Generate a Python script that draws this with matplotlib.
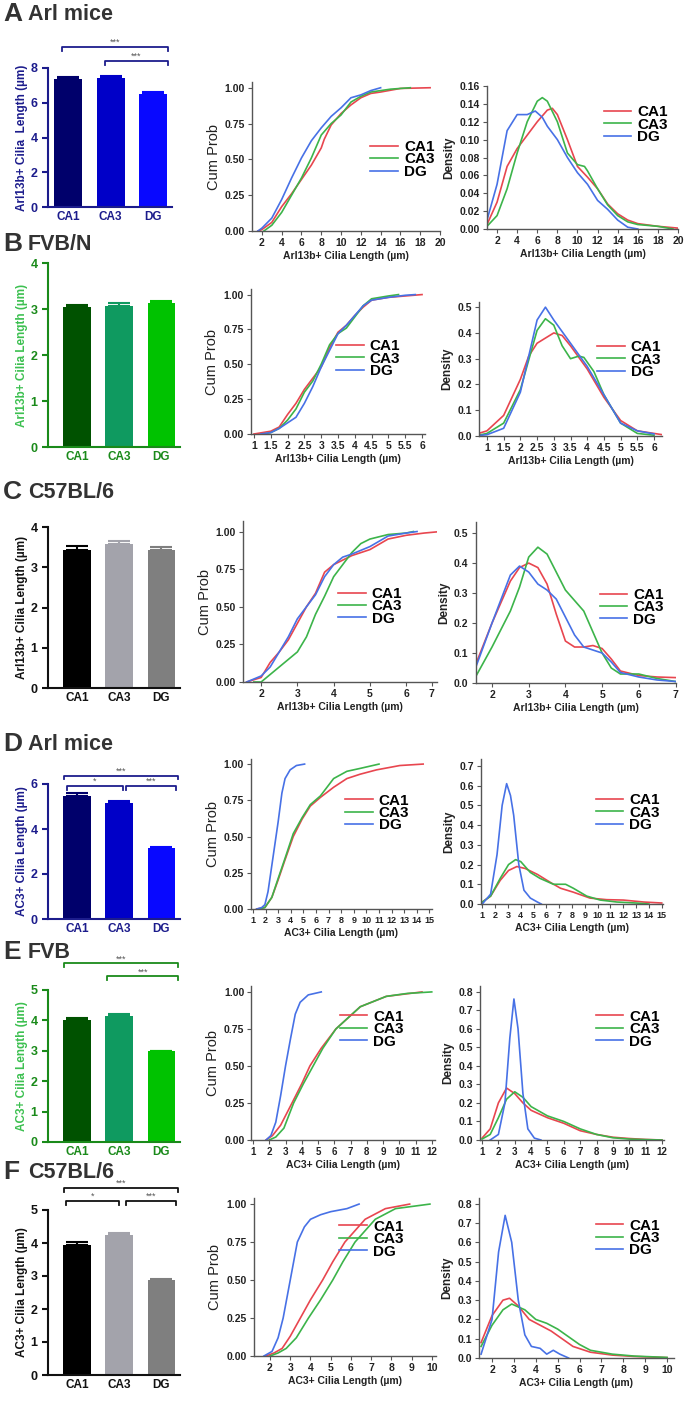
import numpy as np
import matplotlib
matplotlib.use("Agg")
import matplotlib.pyplot as plt

plt.rcParams['font.family'] = ['Liberation Sans', 'DejaVu Sans']

groups = ['CA1', 'CA3', 'DG']

# bar charts: mean and sem (um)
barA_mean = [7.36, 7.40, 6.48]; barA_sem = [0.13, 0.15, 0.14]
barB_mean = [3.04, 3.07, 3.13]; barB_sem = [0.05, 0.06, 0.04]
barC_mean = [3.44, 3.57, 3.43]; barC_sem = [0.08, 0.08, 0.07]
barD_mean = [5.48, 5.17, 3.17]; barD_sem = [0.10, 0.08, 0.04]
barE_mean = [4.00, 4.15, 2.98]; barE_sem = [0.07, 0.06, 0.02]
barF_mean = [3.95, 4.25, 2.87]; barF_sem = [0.08, 0.06, 0.03]

# cumulative probability curves
cdfA_ca1_x = [1.6, 2, 3, 4, 5, 6, 7, 8, 8.3, 9, 10, 11, 12, 13, 14, 16, 19]
cdfA_ca1_y = [0, .01, .06, .17, .26, .36, .46, .58, .64, .74, .82, .88, .93, .96, .97, .995, 1.0]
cdfA_ca3_x = [2.2, 3, 4, 5, 6, 7, 8, 9, 10, 11, 12, 13, 15, 17]
cdfA_ca3_y = [0, .04, .13, .25, .37, .51, .67, .75, .81, .9, .94, .97, .99, 1.0]
cdfA_dg_x = [1.6, 2, 3, 4, 5, 6, 7, 8, 9, 10, 11, 12, 13, 14]
cdfA_dg_y = [0, .02, .09, .22, .37, .51, .63, .72, .8, .86, .93, .95, .98, 1.0]

cdfB_ca1_x = [1.0, 1.5, 1.75, 2, 2.25, 2.5, 2.75, 3, 3.25, 3.5, 3.75, 4, 4.25, 4.5, 5, 5.5, 6]
cdfB_ca1_y = [0, .02, .05, .14, .22, .32, .40, .48, .62, .73, .78, .85, .91, .96, .98, .99, 1.0]
cdfB_ca3_x = [1.3, 1.5, 1.75, 2, 2.25, 2.5, 2.75, 3, 3.25, 3.5, 3.75, 4, 4.25, 4.5, 5, 5.3]
cdfB_ca3_y = [0, .01, .04, .10, .18, .30, .38, .50, .64, .72, .76, .84, .92, .97, .99, 1.0]
cdfB_dg_x = [1.2, 1.5, 1.75, 2, 2.25, 2.5, 2.75, 3, 3.25, 3.5, 3.75, 4, 4.25, 4.5, 5, 5.5, 5.8]
cdfB_dg_y = [0, .01, .04, .08, .12, .22, .34, .48, .6, .72, .78, .85, .92, .96, .98, .995, 1.0]

cdfC_ca1_x = [1.6, 2, 2.25, 2.5, 2.75, 3, 3.25, 3.5, 3.75, 4, 4.5, 5, 5.5, 6, 6.5, 6.95]
cdfC_ca1_y = [0, .03, .13, .2, .28, .39, .5, .59, .73, .78, .84, .88, .95, .975, .99, 1.0]
cdfC_ca3_x = [1.8, 2, 2.25, 2.5, 2.75, 3, 3.25, 3.5, 3.75, 4, 4.25, 4.5, 4.75, 5, 5.5, 6, 6.2]
cdfC_ca3_y = [0, .0, .05, .1, .15, .2, .3, .45, .57, .7, .78, .86, .92, .95, .98, .99, 1.0]
cdfC_dg_x = [1.6, 2, 2.25, 2.5, 2.75, 3, 3.25, 3.5, 3.75, 4, 4.25, 4.5, 5, 5.5, 6, 6.3]
cdfC_dg_y = [0, .04, .1, .2, .3, .42, .5, .58, .7, .78, .83, .85, .9, .97, .99, 1.0]

cdfD_ca1_x = [1.3, 1.95, 2.5, 3.0, 3.55, 4.2, 4.9, 5.55, 6.35, 7.4, 8.45, 9.5, 10.8, 12.65, 14.5]
cdfD_ca1_y = [0, .01, .08, .2, .34, .5, .62, .71, .77, .84, .9, .93, .96, .99, 1.0]
cdfD_ca3_x = [1.5, 1.95, 2.5, 3.0, 3.55, 4.2, 4.9, 5.55, 6.35, 7.4, 8.45, 9.5, 10.5, 11.0]
cdfD_ca3_y = [0, .01, .08, .21, .35, .52, .63, .72, .78, .9, .95, .97, .99, 1.0]
cdfD_dg_x = [1.3, 1.7, 1.95, 2.2, 2.5, 2.75, 3.0, 3.3, 3.55, 3.95, 4.45, 5.1]
cdfD_dg_y = [0, .01, .03, .12, .3, .45, .6, .8, .9, .96, .99, 1.0]

cdfE_ca1_x = [1.8, 2.2, 2.7, 3.4, 4.0, 4.5, 5.2, 6.1, 7.6, 9.2, 11.4]
cdfE_ca1_y = [0, .03, .1, .25, .38, .5, .62, .75, .9, .97, 1.0]
cdfE_ca3_x = [2.0, 2.4, 2.9, 3.5, 4.1, 4.7, 5.3, 6.1, 7.6, 9.2, 10.5, 12.0]
cdfE_ca3_y = [0, .02, .08, .25, .38, .5, .62, .75, .9, .97, .99, 1.0]
cdfE_dg_x = [1.8, 2.1, 2.4, 2.7, 3.0, 3.3, 3.6, 3.9, 4.4, 5.2]
cdfE_dg_y = [0, .03, .12, .3, .5, .68, .85, .93, .98, 1.0]

cdfF_ca1_x = [1.8, 2.2, 2.6, 3.0, 3.5, 4.0, 4.6, 5.1, 5.7, 6.7, 7.7, 8.9]
cdfF_ca1_y = [0, .02, .05, .13, .25, .37, .5, .62, .75, .9, .97, 1.0]
cdfF_ca3_x = [2.0, 2.4, 2.8, 3.3, 3.9, 4.5, 5.1, 5.6, 6.2, 7.2, 8.2, 9.9]
cdfF_ca3_y = [0, .02, .05, .12, .25, .37, .5, .62, .75, .9, .97, 1.0]
cdfF_dg_x = [1.7, 2.1, 2.4, 2.65, 3.0, 3.35, 3.7, 4.0, 4.5, 5.0, 5.8, 6.4]
cdfF_dg_y = [0, .03, .12, .25, .5, .75, .85, .9, .93, .95, .97, 1.0]

# density curves
denA_ca1_x = [1, 2, 3, 4, 5, 6, 7, 7.5, 8, 9, 10, 11, 12, 13, 14, 15, 16, 18, 20]
denA_ca1_y = [.005, .03, .07, .09, .105, .12, .133, .135, .128, .1, .07, .058, .045, .028, .017, .01, .006, .003, .001]
denA_ca3_x = [1, 2, 3, 4, 5, 6, 6.5, 7, 8, 9, 10, 10.7, 11, 12, 13, 14, 15, 16, 18, 19.5]
denA_ca3_y = [.003, .015, .045, .085, .12, .143, .147, .143, .12, .085, .072, .07, .065, .045, .027, .015, .008, .005, .003, 0]
denA_dg_x = [1, 2, 3, 4, 5, 5.8, 6.5, 7, 8, 9, 10, 11, 12, 13, 14, 15, 16]
denA_dg_y = [.01, .05, .11, .128, .128, .132, .125, .115, .1, .08, .063, .05, .032, .022, .01, .002, 0]

denB_ca1_x = [0.75, 1, 1.5, 2, 2.25, 2.5, 3, 3.25, 3.5, 4, 4.5, 5, 5.5, 6, 6.25]
denB_ca1_y = [.01, .02, .08, .22, .31, .36, .4, .39, .35, .26, .15, .06, .02, .01, .005]
denB_ca3_x = [0.75, 1, 1.5, 2, 2.5, 2.75, 3, 3.25, 3.5, 3.75, 3.9, 4.2, 4.5, 5, 5.5, 6]
denB_ca3_y = [.003, .01, .05, .18, .41, .455, .43, .35, .3, .31, .305, .25, .16, .05, .01, .003]
denB_dg_x = [0.75, 1, 1.5, 2, 2.5, 2.75, 3, 3.5, 4, 4.5, 5, 5.5, 6]
denB_dg_y = [.002, .005, .03, .17, .45, .5, .45, .36, .27, .16, .05, .02, .008]

denC_ca1_x = [1.55, 2, 2.5, 2.75, 3, 3.25, 3.5, 3.75, 4, 4.25, 4.5, 4.75, 5, 5.25, 5.5, 6, 6.5, 7]
denC_ca1_y = [.06, .2, .34, .385, .4, .385, .33, .23, .14, .12, .12, .125, .115, .08, .04, .025, .02, .018]
denC_ca3_x = [1.55, 2, 2.5, 2.75, 3, 3.25, 3.5, 3.75, 4, 4.5, 4.75, 5, 5.25, 5.5, 6, 6.5, 7]
denC_ca3_y = [.02, .12, .24, .32, .42, .453, .43, .37, .31, .24, .17, .1, .05, .03, .03, .015, .005]
denC_dg_x = [1.55, 2, 2.5, 2.75, 3, 3.25, 3.5, 3.75, 4, 4.25, 4.5, 5, 5.25, 5.5, 6, 6.5, 7]
denC_dg_y = [.05, .2, .36, .39, .37, .33, .31, .28, .22, .16, .12, .1, .07, .035, .02, .01, .005]

denD_ca1_x = [1, 1.65, 2.4, 3.05, 3.7, 4.35, 5.3, 6.3, 7.1, 8.1, 9.4, 10.7, 12, 13.6, 15]
denD_ca1_y = [.01, .04, .12, .17, .19, .18, .15, .11, .08, .06, .03, .022, .02, .01, .005]
denD_ca3_x = [1, 1.65, 2.4, 3.05, 3.6, 4, 4.75, 5.5, 6.55, 7.5, 8.1, 9.15, 10.2, 11.5, 13, 14]
denD_ca3_y = [.01, .04, .13, .2, .225, .215, .16, .13, .1, .1, .08, .04, .02, .01, .005, 0]
denD_dg_x = [1, 1.65, 2.15, 2.55, 2.9, 3.2, 3.45, 3.85, 4.25, 4.75, 5.3, 5.6]
denD_dg_y = [0, .05, .25, .5, .61, .55, .45, .2, .07, .03, .01, 0]

denE_ca1_x = [1, 1.5, 2, 2.5, 3, 3.5, 4, 5, 6, 7, 8, 9, 10, 11, 12]
denE_ca1_y = [.01, .06, .2, .28, .25, .2, .16, .12, .09, .05, .03, .015, .008, .003, 0]
denE_ca3_x = [1, 1.5, 2, 2.5, 3, 3.5, 4, 5, 6, 7, 8, 9, 10, 11, 12]
denE_ca3_y = [.005, .03, .12, .22, .26, .23, .18, .13, .1, .06, .03, .012, .005, .002, 0]
denE_dg_x = [1.5, 2, 2.4, 2.7, 2.95, 3.2, 3.5, 3.8, 4.2, 4.6]
denE_dg_y = [0, .03, .2, .55, .76, .6, .25, .06, .01, 0]

denF_ca1_x = [1.5, 2, 2.5, 2.8, 3.2, 3.7, 4.2, 4.7, 5.2, 5.7, 6.5, 7.5, 8.5, 10]
denF_ca1_y = [.08, .22, .3, .31, .27, .2, .17, .14, .1, .06, .03, .015, .008, .002]
denF_ca3_x = [1.5, 2, 2.5, 2.9, 3.5, 4, 4.5, 5, 5.5, 6, 6.5, 7.5, 8.5, 10]
denF_ca3_y = [.06, .17, .25, .28, .25, .2, .18, .15, .11, .07, .04, .02, .01, .003]
denF_dg_x = [1.5, 2, 2.3, 2.6, 2.9, 3.2, 3.5, 3.8, 4.2, 4.5, 4.8, 5.1, 5.5]
denF_dg_y = [.02, .2, .55, .74, .6, .3, .12, .06, .05, .02, .04, .02, 0]

RED, GRN, BLU = '#e8464f', '#3cb44a', '#4771e6'
TXT = '#333333'

W, H = 685, 1411
fig = plt.figure(figsize=(6.85, 14.11), dpi=100)


def place(x0, ytop, x1, ybot):
    return fig.add_axes([x0 / W, 1 - ybot / H, (x1 - x0) / W, (ybot - ytop) / H])


def bar_panel(ax, means, sems, cols, axc, tickc, labc, ylabel, ymax, xlim):
    x = np.arange(len(groups))
    ax.bar(x, means, 0.66, color=cols, zorder=2)
    for i in range(len(x)):
        ax.errorbar(x[i], means[i], yerr=[[0], [sems[i]]], fmt='none', ecolor=cols[i],
                    elinewidth=1.5, capsize=8, capthick=1.5, zorder=1)
    ax.set_xlim(*xlim)
    ax.set_ylim(0, ymax)
    ax.set_yticks(np.arange(0, ymax + 0.01, 2 if ymax > 5 else 1))
    ax.set_xticks(x)
    ax.set_xticklabels(groups)
    for s in ['top', 'right']:
        ax.spines[s].set_visible(False)
    for s in ['left', 'bottom']:
        ax.spines[s].set_color(axc)
        ax.spines[s].set_linewidth(1.5)
    ax.tick_params(axis='y', colors=axc, labelcolor=tickc, width=1.5, length=4, labelsize=9)
    ax.tick_params(axis='x', length=0, labelcolor=tickc, labelsize=8.5, pad=3)
    for t in ax.get_xticklabels() + ax.get_yticklabels():
        t.set_fontweight('bold')
    ax.set_ylabel(ylabel, color=labc, fontweight='bold', fontsize=8.5, labelpad=2)


def bracket(ax, x0, x1, y, h, txt, col):
    ax.plot([x0, x0, x1, x1], [y - h, y, y, y - h], color=col, lw=1.3, clip_on=False)
    ax.text((x0 + x1) / 2, y, txt, ha='center', va='bottom', fontsize=6.5, color='#555555',
            clip_on=False)


def curve_panel(ax, series, xlim, xticks, ylim, yticks, yfmt, ylabel, xlabel, leg,
                ylab_bold, xtlabels=None, xtsize=7.5):
    for xs, ys, c, lab in series:
        ax.plot(xs, ys, color=c, lw=1.2, label=lab, solid_joinstyle='round')
    ax.set_xlim(*xlim)
    ax.set_ylim(*ylim)
    ax.set_xticks(xticks)
    if xtlabels is not None:
        ax.set_xticklabels(xtlabels)
    else:
        ax.set_xticklabels(['%g' % v for v in xticks])
    ax.set_yticks(yticks)
    ax.set_yticklabels([yfmt % v for v in yticks])
    for s in ['top', 'right']:
        ax.spines[s].set_visible(False)
    for s in ['left', 'bottom']:
        ax.spines[s].set_color('#555555')
        ax.spines[s].set_linewidth(1.0)
    ax.tick_params(axis='both', colors='#555555', labelcolor='#222222', length=3, width=0.8, pad=2)
    ax.tick_params(axis='y', labelsize=7.5)
    ax.tick_params(axis='x', labelsize=xtsize)
    for t in ax.get_xticklabels() + ax.get_yticklabels():
        t.set_fontweight('bold')
    ax.set_xlabel(xlabel, fontsize=7.5, fontweight='bold', color='#222222', labelpad=2)
    ax.set_ylabel(ylabel, fontsize=10.5 if not ylab_bold else 8.5,
                  fontweight='bold' if ylab_bold else 'normal', color='#222222', labelpad=3)
    ax.legend(loc='center left', bbox_to_anchor=leg, frameon=False,
              prop={'weight': 'bold', 'size': 11}, handlelength=1.8, handletextpad=0.4,
              labelspacing=-0.1, borderpad=0, borderaxespad=0)


navy_bars = ['#00006b', '#0000c8', '#0808ff']
green_bars = ['#005200', '#0f9a60', '#00c200']
gray_bars = ['#000000', '#a3a3ab', '#7f7f7f']
NAVY, GREEN_AX, GREEN_LAB = '#1c1c8c', '#1a8a1a', '#3cc050'

arl_lab = 'Arl13b+ Cilia Length (\u00b5m)'
ac3_lab = 'AC3+ Cilia Length (\u00b5m)'
yticks_cdf = [0, 0.25, 0.5, 0.75, 1.0]

# titles
titles = [('A', 'Arl mice', 14), ('B', 'FVB/N', 244), ('C', 'C57BL/6', 492),
          ('D', 'Arl mice', 744), ('E', 'FVB', 952), ('F', 'C57BL/6', 1172)]
for letter, name, yc in titles:
    fig.text(3 / W, 1 - yc / H, letter, fontsize=19, fontweight='bold', color=TXT, va='center')
    fig.text(28 / W, 1 - yc / H, name, fontsize=15.5, fontweight='bold', color=TXT, va='center')

# ---- row A
ax = place(48, 68, 172, 207)
bar_panel(ax, barA_mean, barA_sem, navy_bars, NAVY, NAVY, NAVY,
          'Arl13b+ Cilia  Length (\u00b5m)', 8, (-0.48, 2.45))
bracket(ax, -0.15, 2.35, 9.2, 0.2, '***', NAVY)
bracket(ax, 0.86, 2.35, 8.4, 0.2, '***', NAVY)

ax = place(252, 82, 440, 231)
curve_panel(ax, [(cdfA_ca1_x, cdfA_ca1_y, RED, 'CA1'), (cdfA_ca3_x, cdfA_ca3_y, GRN, 'CA3'),
                 (cdfA_dg_x, cdfA_dg_y, BLU, 'DG')],
            (1, 20), np.arange(2, 21, 2), (0, 1.04), yticks_cdf, '%.2f', 'Cum Prob', arl_lab,
            (0.63, 0.48), False)

ax = place(487, 86, 678, 229)
curve_panel(ax, [(denA_ca1_x, denA_ca1_y, RED, 'CA1'), (denA_ca3_x, denA_ca3_y, GRN, 'CA3'),
                 (denA_dg_x, denA_dg_y, BLU, 'DG')],
            (1, 20), np.arange(2, 21, 2), (0, 0.16), np.arange(0, 0.161, 0.02), '%.2f', 'Density',
            arl_lab, (0.61, 0.73), True)

# ---- row B
ax = place(48, 263, 180, 447)
bar_panel(ax, barB_mean, barB_sem, green_bars, GREEN_AX, GREEN_AX, GREEN_LAB,
          arl_lab, 4, (-0.69, 2.44))

ax = place(250.6, 289, 425.4, 434)
curve_panel(ax, [(cdfB_ca1_x, cdfB_ca1_y, RED, 'CA1'), (cdfB_ca3_x, cdfB_ca3_y, GRN, 'CA3'),
                 (cdfB_dg_x, cdfB_dg_y, BLU, 'DG')],
            (0.9, 6.1), np.arange(1, 6.01, 0.5), (0, 1.04), yticks_cdf, '%.2f', 'Cum Prob', arl_lab,
            (0.49, 0.52), False)

ax = place(478.6, 302, 662.4, 436)
curve_panel(ax, [(denB_ca1_x, denB_ca1_y, RED, 'CA1'), (denB_ca3_x, denB_ca3_y, GRN, 'CA3'),
                 (denB_dg_x, denB_dg_y, BLU, 'DG')],
            (0.75, 6.25), np.arange(1, 6.01, 0.5), (0, 0.52), np.arange(0, 0.51, 0.1), '%.1f',
            'Density', arl_lab, (0.645, 0.57), True)

# ---- row C
ax = place(48, 527, 180, 688)
bar_panel(ax, barC_mean, barC_sem, gray_bars, '#111111', '#111111', '#111111',
          arl_lab, 4, (-0.69, 2.44))

ax = place(243, 521, 437, 682)
curve_panel(ax, [(cdfC_ca1_x, cdfC_ca1_y, RED, 'CA1'), (cdfC_ca3_x, cdfC_ca3_y, GRN, 'CA3'),
                 (cdfC_dg_x, cdfC_dg_y, BLU, 'DG')],
            (1.5, 6.85), [2, 3, 4, 5, 6, 6.7], (0, 1.07), yticks_cdf, '%.2f', 'Cum Prob', arl_lab,
            (0.49, 0.47), False, xtlabels=['2', '3', '4', '5', '6', '7'])

ax = place(475.5, 522, 675.5, 683)
curve_panel(ax, [(denC_ca1_x, denC_ca1_y, RED, 'CA1'), (denC_ca3_x, denC_ca3_y, GRN, 'CA3'),
                 (denC_dg_x, denC_dg_y, BLU, 'DG')],
            (1.55, 7.0), np.arange(2, 7.01, 1), (0, 0.537), np.arange(0, 0.51, 0.1), '%.1f',
            'Density', arl_lab, (0.62, 0.47), True)

# ---- row D
ax = place(48, 784, 180, 919)
bar_panel(ax, barD_mean, barD_sem, navy_bars, NAVY, NAVY, NAVY, ac3_lab, 6, (-0.69, 2.44))
bracket(ax, -0.31, 2.39, 6.36, 0.15, '***', NAVY)
bracket(ax, -0.24, 1.09, 5.91, 0.18, '*', NAVY)
bracket(ax, 1.16, 2.35, 5.91, 0.18, '***', NAVY)

ax = place(251, 759, 432, 909)
curve_panel(ax, [(cdfD_ca1_x, cdfD_ca1_y, RED, 'CA1'), (cdfD_ca3_x, cdfD_ca3_y, GRN, 'CA3'),
                 (cdfD_dg_x, cdfD_dg_y, BLU, 'DG')],
            (0.85, 15.2), np.arange(1, 15.01, 1), (0, 1.035), yticks_cdf, '%.2f', 'Cum Prob', ac3_lab,
            (0.52, 0.64), False, xtsize=6.5)

ax = place(481, 759, 663, 904)
curve_panel(ax, [(denD_ca1_x, denD_ca1_y, RED, 'CA1'), (denD_ca3_x, denD_ca3_y, GRN, 'CA3'),
                 (denD_dg_x, denD_dg_y, BLU, 'DG')],
            (0.9, 15.1), np.arange(1, 15.01, 1), (0, 0.735), np.arange(0, 0.71, 0.1), '%.1f',
            'Density', ac3_lab, (0.63, 0.63), True, xtsize=6.5)

# ---- row E
ax = place(48, 990, 180, 1142)
bar_panel(ax, barE_mean, barE_sem, green_bars, GREEN_AX, GREEN_AX, GREEN_LAB, ac3_lab, 5,
          (-0.69, 2.44))
bracket(ax, -0.31, 2.39, 5.88, 0.13, '***', GREEN_AX)
bracket(ax, 0.72, 2.39, 5.45, 0.13, '***', GREEN_AX)

ax = place(251.4, 986, 435, 1140)
curve_panel(ax, [(cdfE_ca1_x, cdfE_ca1_y, RED, 'CA1'), (cdfE_ca3_x, cdfE_ca3_y, GRN, 'CA3'),
                 (cdfE_dg_x, cdfE_dg_y, BLU, 'DG')],
            (0.9, 12.2), np.arange(1, 12.01, 1), (0, 1.04), yticks_cdf, '%.2f', 'Cum Prob', ac3_lab,
            (0.48, 0.72), False, xtsize=7)

ax = place(480.4, 986, 663.6, 1140)
curve_panel(ax, [(denE_ca1_x, denE_ca1_y, RED, 'CA1'), (denE_ca3_x, denE_ca3_y, GRN, 'CA3'),
                 (denE_dg_x, denE_dg_y, BLU, 'DG')],
            (0.9, 12.1), np.arange(1, 12.01, 1), (0, 0.83), np.arange(0, 0.81, 0.1), '%.1f',
            'Density', ac3_lab, (0.63, 0.72), True, xtsize=7)

# ---- row F
ax = place(48, 1210, 180, 1375)
bar_panel(ax, barF_mean, barF_sem, gray_bars, '#111111', '#111111', '#111111', ac3_lab, 5,
          (-0.69, 2.44))
bracket(ax, -0.31, 2.39, 5.68, 0.13, '***', '#111111')
bracket(ax, -0.26, 1.0, 5.28, 0.13, '*', '#111111')
bracket(ax, 1.16, 2.35, 5.28, 0.13, '***', '#111111')

ax = place(253.8, 1198, 436, 1356)
curve_panel(ax, [(cdfF_ca1_x, cdfF_ca1_y, RED, 'CA1'), (cdfF_ca3_x, cdfF_ca3_y, GRN, 'CA3'),
                 (cdfF_dg_x, cdfF_dg_y, BLU, 'DG')],
            (1.2, 10.2), np.arange(2, 10.01, 1), (0, 1.04), yticks_cdf, '%.2f', 'Cum Prob', ac3_lab,
            (0.47, 0.74), False)

ax = place(478.9, 1198, 673.6, 1358)
curve_panel(ax, [(denF_ca1_x, denF_ca1_y, RED, 'CA1'), (denF_ca3_x, denF_ca3_y, GRN, 'CA3'),
                 (denF_dg_x, denF_dg_y, BLU, 'DG')],
            (1.4, 10.3), np.arange(2, 10.01, 1), (0, 0.83), np.arange(0, 0.81, 0.1), '%.1f',
            'Density', ac3_lab, (0.6, 0.75), True)

fig.savefig('out.png', dpi=100)
